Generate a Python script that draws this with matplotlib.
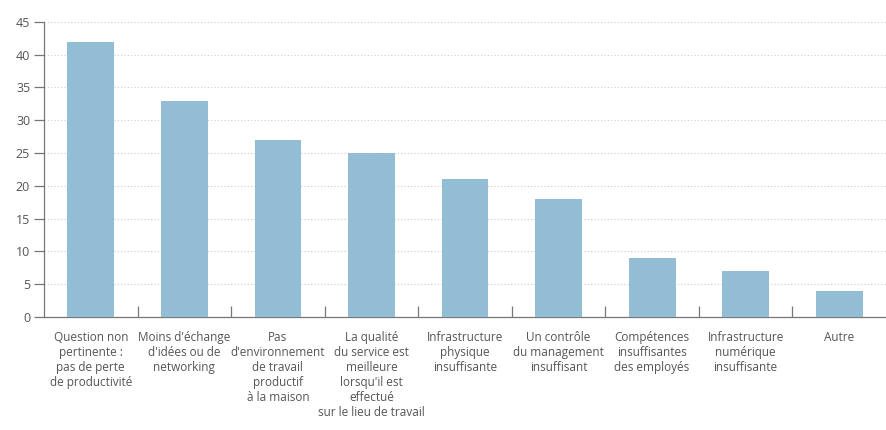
import numpy as np
import matplotlib.pyplot as plt
from matplotlib.ticker import FixedLocator

### categories and values
categories = [
    "Question non\npertinente :\npas de perte\nde productivité",
    "Moins d'échange\nd'idées ou de\nnetworking",
    "Pas\nd'environnement\nde travail\nproductif\nà la maison",
    "La qualité\ndu service est\nmeilleure\nlorsqu'il est\neffectué\nsur le lieu de travail",
    "Infrastructure\nphysique\ninsuffisante",
    "Un contrôle\ndu management\ninsuffisant",
    "Compétences\ninsuffisantes\ndes employés",
    "Infrastructure\nnumérique\ninsuffisante",
    "Autre",
]
values = [42, 33, 27, 25, 21, 18, 9, 7, 4]
y_ticks = [0, 5, 10, 15, 20, 25, 30, 35, 40, 45]

plt.rcParams['font.family'] = ['Open Sans', 'DejaVu Sans']
text_col = '#555555'
axis_col = '#777777'

fig = plt.figure(figsize=(8.86, 4.30), dpi=100)
ax = fig.add_axes([0.0497, 0.263, 0.9503, 0.686])

x = np.arange(len(values))
ax.bar(x, values, width=0.5, color='#93bdd4', zorder=3)

ax.set_xlim(-0.5, len(values) - 0.5)
ax.set_ylim(0, 45)
ax.set_yticks(y_ticks)
ax.yaxis.grid(True, linestyle=(0, (1, 2)), color='#cccccc', linewidth=0.8, zorder=0)

ax.set_xticks(x)
ax.set_xticklabels(categories, fontsize=8.5, color=text_col, linespacing=1.2)
ax.tick_params(axis='x', which='major', length=0, pad=10)
# separators between categories
ax.xaxis.set_minor_locator(FixedLocator(np.arange(0.5, len(values) - 1, 1.0)))
ax.tick_params(axis='x', which='minor', direction='in', length=8, color=axis_col, width=0.9)
ax.tick_params(axis='y', length=7, color=axis_col, width=0.9, labelsize=9, labelcolor=text_col, pad=3)

for s in ['top', 'right']:
    ax.spines[s].set_visible(False)
for s in ['left', 'bottom']:
    ax.spines[s].set_color(axis_col)
    ax.spines[s].set_linewidth(0.9)

fig.savefig('out.png', dpi=100, facecolor='white')
